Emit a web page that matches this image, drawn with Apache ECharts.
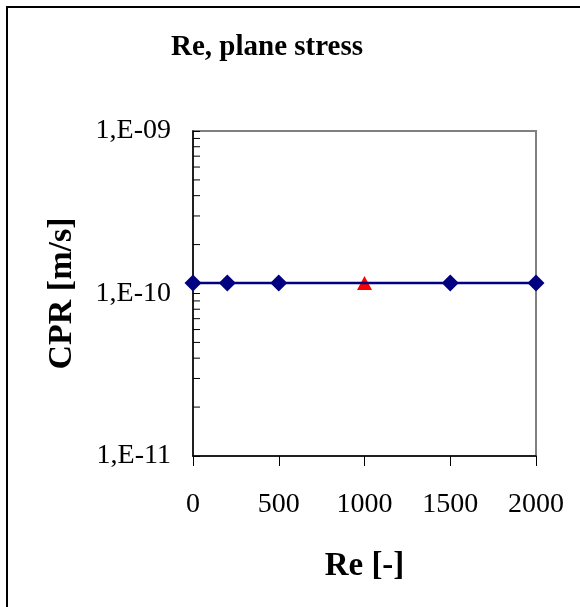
<!DOCTYPE html>
<html>
<head>
<meta charset="utf-8">
<style>
  html, body { margin: 0; padding: 0; background: #fff; }
  #chart { width: 580px; height: 607px; }
</style>
<script src="https://cdn.jsdelivr.net/npm/echarts@6/dist/echarts.min.js"></script>
</head>
<body>
<div id="chart"></div>
<script>
// Crack propagation rate versus Reynolds number, plane stress
const reValues = [0, 200, 500, 1500, 2000];
const cprValues = [1.16e-10, 1.16e-10, 1.16e-10, 1.16e-10, 1.16e-10];
const refRe = [1000];
const refCpr = [1.16e-10];
const xTicks = [0, 500, 1000, 1500, 2000];
// intermediate ticks of the log axis (2..9 within each decade)
const minorTickValues = [
  2e-11, 3e-11, 4e-11, 5e-11, 6e-11, 7e-11, 8e-11, 9e-11,
  2e-10, 3e-10, 4e-10, 5e-10, 6e-10, 7e-10, 8e-10, 9e-10
];

const serif = '"Liberation Serif", "Times New Roman", serif';

function expLabel(v) {
  const e = Math.round(Math.log10(v));
  const s = e < 0 ? '-' : '+';
  return '1,E' + s + String(Math.abs(e)).padStart(2, '0');
}

const chart = echarts.init(document.getElementById('chart'), null, { renderer: 'canvas' });

chart.setOption({
  animation: false,
  backgroundColor: '#fff',
  graphic: [
    {
      type: 'rect',
      shape: { x: 7, y: 7, width: 800, height: 800 },
      style: { fill: 'none', stroke: '#000', lineWidth: 2 },
      z: 0
    },
    {
      type: 'text',
      x: 267, y: 48,
      style: {
        text: 'Re, plane stress',
        font: 'bold 29px ' + serif,
        fill: '#000',
        textAlign: 'center',
        textVerticalAlign: 'middle'
      }
    }
  ],
  grid: {
    left: 193, right: 44, top: 131, bottom: 151,
    show: true,
    borderColor: '#808080',
    borderWidth: 2,
    backgroundColor: 'transparent'
  },
  xAxis: {
    type: 'value',
    min: xTicks[0],
    max: xTicks[xTicks.length - 1],
    interval: 500,
    name: 'Re [-]',
    nameLocation: 'middle',
    nameGap: 94,
    nameTextStyle: { fontFamily: serif, fontWeight: 'bold', fontSize: 33, color: '#000' },
    axisLine: { show: true, lineStyle: { color: '#000', width: 1.5 } },
    axisTick: { show: true, inside: false, length: 10, lineStyle: { color: '#000', width: 1 } },
    axisLabel: {
      fontFamily: serif, fontSize: 28, color: '#000', margin: 35,
      formatter: v => String(v)
    },
    splitLine: { show: false }
  },
  yAxis: {
    type: 'log',
    logBase: 10,
    min: 1e-11,
    max: 1e-9,
    name: 'CPR [m/s]',
    nameLocation: 'middle',
    nameRotate: 90,
    nameGap: 114,
    nameTextStyle: { fontFamily: serif, fontWeight: 'bold', fontSize: 34, color: '#000' },
    axisLine: { show: true, lineStyle: { color: '#000', width: 1.5 } },
    axisTick: { show: true, inside: true, length: 7, lineStyle: { color: '#000', width: 1 } },
    axisLabel: { fontFamily: serif, fontSize: 28, color: '#000', margin: 22, formatter: expLabel },
    splitLine: { show: false }
  },
  series: [
    {
      name: 'minor ticks',
      type: 'custom',
      coordinateSystem: 'cartesian2d',
      silent: true,
      clip: false,
      data: minorTickValues.map(v => [0, v]),
      encode: { x: 0, y: 1 },
      renderItem: function (params, api) {
        const p = api.coord([0, api.value(1)]);
        return {
          type: 'line',
          shape: { x1: p[0], y1: p[1], x2: p[0] + 7, y2: p[1] },
          style: { stroke: '#000', lineWidth: 1 }
        };
      },
      z: 3
    },
    {
      name: 'Re = 1000',
      type: 'scatter',
      data: refRe.map((x, i) => [x, refCpr[i]]),
      symbol: 'triangle',
      symbolSize: [15, 14],
      itemStyle: { color: '#FF0000', opacity: 1 },
      z: 2
    },
    {
      name: 'CPR',
      type: 'line',
      data: reValues.map((x, i) => [x, cprValues[i]]),
      symbol: 'diamond',
      symbolSize: 17,
      showAllSymbol: true,
      lineStyle: { color: '#000080', width: 2.5 },
      itemStyle: { color: '#000080' },
      z: 4
    }
  ]
});
</script>
</body>
</html>
